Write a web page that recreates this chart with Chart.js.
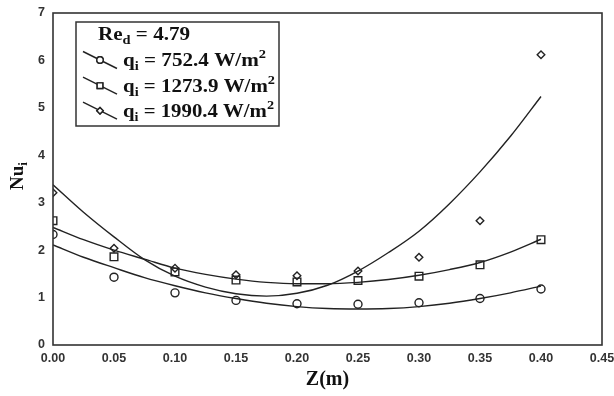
<!DOCTYPE html>
<html>
<head>
<meta charset="utf-8">
<script src="https://cdn.jsdelivr.net/npm/chart.js@4"></script>
<style>
  html, body { margin: 0; padding: 0; background: #fff; }
  #wrap { width: 614px; height: 396px; position: relative; }
</style>
</head>
<body>
<div id="wrap"><canvas id="c" width="614" height="396"></canvas></div>
<script>
// ---- data ----
const zPoints = [0.00, 0.05, 0.10, 0.15, 0.20, 0.25, 0.30, 0.35, 0.40];
const nu752  = [2.33, 1.43, 1.10, 0.94, 0.87, 0.86, 0.89, 0.98, 1.18];
const nu1274 = [2.62, 1.86, 1.54, 1.37, 1.33, 1.36, 1.45, 1.69, 2.22];
const nu1990 = [3.21, 2.04, 1.62, 1.48, 1.46, 1.56, 1.85, 2.62, 6.12];

// fitted curves
const zCurve = [0.000, 0.025, 0.050, 0.075, 0.100, 0.125, 0.150, 0.175, 0.200,
                0.225, 0.250, 0.275, 0.300, 0.325, 0.350, 0.375, 0.400];
const fit752  = [2.11, 1.85, 1.63, 1.42, 1.25, 1.10, 0.98, 0.88, 0.81,
                 0.77, 0.76, 0.77, 0.81, 0.88, 0.98, 1.10, 1.24];
const fit1274 = [2.48, 2.22, 2.00, 1.81, 1.62, 1.49, 1.39, 1.32, 1.29,
                 1.29, 1.32, 1.38, 1.47, 1.59, 1.74, 1.96, 2.23];
const fit1990 = [3.38, 2.80, 2.28, 1.80, 1.45, 1.22, 1.08, 1.03, 1.09,
                 1.26, 1.56, 1.95, 2.40, 2.98, 3.65, 4.40, 5.24];

const xTicks = [0, 0.05, 0.10, 0.15, 0.20, 0.25, 0.30, 0.35, 0.40, 0.45];
const yTicks = [0, 1, 2, 3, 4, 5, 6, 7];

const legendTitle = { main: 'Re', sub: 'd', rest: ' = 4.79' };
const seriesLabels = ['752.4', '1273.9', '1990.4'];
const markerStyles = ['circle', 'rect', 'rectRot'];

const INK = '#222';
const toXY = (xs, ys) => xs.map((x, i) => ({ x: x, y: ys[i] }));

function pointSet(ys, style, radius) {
  return {
    type: 'scatter', data: toXY(zPoints, ys), showLine: false,
    pointStyle: style, pointRadius: radius, pointHoverRadius: radius,
    pointBorderWidth: 1.4, borderColor: INK, backgroundColor: 'rgba(0,0,0,0)'
  };
}
function curveSet(ys) {
  return {
    type: 'line', data: toXY(zCurve, ys), showLine: true,
    borderColor: INK, borderWidth: 1.4, pointRadius: 0, tension: 0.4,
    fill: false, cubicInterpolationMode: 'monotone'
  };
}

function richWidth(ctx, parts) {
  let w = 0;
  for (const p of parts) { ctx.font = p.font; w += ctx.measureText(p.t).width; }
  return w;
}
function drawRich(ctx, parts, x, y, targetW) {
  const nat = richWidth(ctx, parts);
  const sx = targetW ? targetW / nat : 1;
  ctx.save();
  ctx.translate(x, y);
  ctx.scale(sx, 1);
  let cx = 0;
  for (const p of parts) {
    ctx.font = p.font;
    ctx.fillText(p.t, cx, p.dy || 0);
    cx += ctx.measureText(p.t).width;
  }
  ctx.restore();
}

const BIG = 'bold 19px "Liberation Serif", "DejaVu Serif", serif';
const SMALL = 'bold 13px "Liberation Serif", "DejaVu Serif", serif';

const decorPlugin = {
  id: 'decor',
  afterDatasetsDraw(chart) {
    const ctx = chart.ctx;
    const a = chart.chartArea;
    ctx.save();
    // frame
    ctx.strokeStyle = '#333';
    ctx.lineWidth = 1.6;
    ctx.strokeRect(a.left, a.top, a.right - a.left, a.bottom - a.top);

    // legend box
    ctx.fillStyle = '#fff';
    ctx.fillRect(76, 22, 203, 104);
    ctx.strokeStyle = '#333';
    ctx.lineWidth = 1.5;
    ctx.strokeRect(76, 22, 203, 104);

    ctx.fillStyle = '#111';
    ctx.textBaseline = 'alphabetic';
    ctx.textAlign = 'left';
    drawRich(ctx, [
      { t: legendTitle.main, font: BIG },
      { t: legendTitle.sub, font: SMALL, dy: 4 },
      { t: legendTitle.rest, font: BIG }
    ], 98, 40, 92);

    const rowY = [60, 85.7, 110.7];
    const widths = [143, 152, 151];
    for (let i = 0; i < 3; i++) {
      const my = rowY[i];
      ctx.strokeStyle = INK;
      ctx.lineWidth = 1.4;
      ctx.beginPath();
      ctx.moveTo(83, my - 8.5);
      ctx.lineTo(117, my + 8.5);
      ctx.stroke();
      ctx.fillStyle = '#fff';
      Chart.helpers.drawPoint(ctx, {
        pointStyle: markerStyles[i], radius: i === 1 ? 4 : 3.2, rotation: 0, borderWidth: 1.4
      }, 100, my);
      ctx.fill();
      ctx.stroke();
      ctx.fillStyle = '#111';
      drawRich(ctx, [
        { t: 'q', font: BIG },
        { t: 'i', font: SMALL, dy: 4 },
        { t: ' = ' + seriesLabels[i] + ' W/m', font: BIG },
        { t: '2', font: SMALL, dy: -8 }
      ], 123, my + 6, widths[i]);
    }

    // y-axis title  Nu_i
    ctx.save();
    ctx.translate(23, 176);
    ctx.rotate(-Math.PI / 2);
    const yParts = [{ t: 'Nu', font: BIG }, { t: 'i', font: SMALL, dy: 4 }];
    const yw = richWidth(ctx, yParts);
    ctx.fillStyle = '#111';
    drawRich(ctx, yParts, -yw / 2, 0);
    ctx.restore();

    // x-axis title
    ctx.font = 'bold 20px "Liberation Serif", "DejaVu Serif", serif';
    ctx.textAlign = 'center';
    ctx.fillStyle = '#111';
    ctx.fillText('Z(m)', (a.left + a.right) / 2, 385);
    ctx.restore();
  }
};

const tickFont = { family: '"Liberation Sans", Arial, sans-serif', size: 12.5, weight: 'bold' };

new Chart(document.getElementById('c'), {
  type: 'scatter',
  data: {
    datasets: [
      curveSet(fit752), curveSet(fit1274), curveSet(fit1990),
      pointSet(nu752, 'circle', 4),
      pointSet(nu1274, 'rect', 5.4),
      pointSet(nu1990, 'rectRot', 3.8)
    ]
  },
  options: {
    responsive: false,
    animation: false,
    events: [],
    layout: { padding: { top: 13, right: 12, left: 0, bottom: 0 } },
    plugins: { legend: { display: false }, tooltip: { enabled: false } },
    scales: {
      x: {
        type: 'linear', min: 0, max: 0.45,
        afterBuildTicks: s => { s.ticks = xTicks.map(v => ({ value: v })); },
        afterFit: s => { s.height = 51; s.paddingRight = 0; s.paddingLeft = 0; },
        grid: { display: false, drawTicks: false },
        border: { display: false },
        ticks: { font: tickFont, color: '#333', padding: 6, maxRotation: 0,
                 autoSkip: false, callback: v => v.toFixed(2) }
      },
      y: {
        type: 'linear', min: 0, max: 7,
        afterBuildTicks: s => { s.ticks = yTicks.map(v => ({ value: v })); },
        afterFit: s => { s.width = 53; s.paddingTop = 0; s.paddingBottom = 0; },
        grid: { display: false, drawTicks: false },
        border: { display: false },
        ticks: { font: tickFont, color: '#333', padding: 8, callback: v => String(v) }
      }
    }
  },
  plugins: [decorPlugin]
});
</script>
</body>
</html>
